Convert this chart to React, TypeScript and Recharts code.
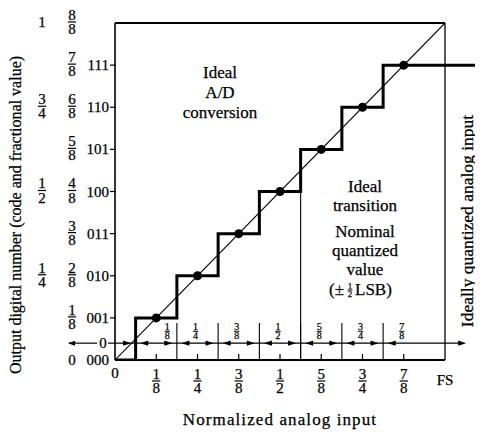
import React from 'react';
import { ComposedChart, Line, Scatter, XAxis, YAxis, ReferenceLine, Customized } from 'recharts';

// ---------- data ----------
const codes = ['000', '001', '010', '011', '100', '101', '110', '111'];
const levelFractions = ['0', '1/8', '2/8', '3/8', '4/8', '5/8', '6/8', '7/8', '8/8'];
const reducedFractions = ['', '', '1/4', '', '1/2', '', '3/4', '', '1'];
const yLevels = [0, 0.125, 0.25, 0.375, 0.5, 0.625, 0.75, 0.875, 1];
const xTickValues = [0, 0.125, 0.25, 0.375, 0.5, 0.625, 0.75, 0.875, 1];
const xTickLabels = ['0', '1/8', '1/4', '3/8', '1/2', '5/8', '3/4', '7/8', 'FS'];
const transitions = [0.0625, 0.1875, 0.3125, 0.4375, 0.5625, 0.6875, 0.8125];
const stepCodes = [1, 2, 3, 4, 5, 6, 7];
const quantizedInputs = [0.125, 0.25, 0.375, 0.5, 0.625, 0.75, 0.875];
const intervalLabels = ['1/8', '1/4', '3/8', '1/2', '5/8', '3/4', '7/8'];
const highlightedTransition = [0.5625];

// ---------- layout constants ----------
const FONT = '"Liberation Serif", "Times New Roman", serif';
const X_MAX = 368 / 330;
const ROW = 0.05;
const LABEL_ROW = 0.085;
const DIVIDER_TOP = 0.11;
const ARROW_GAP = 0.026;
const ROW_END = 1.052;

const stepData = [
  { x: 0, y: 0 },
  ...transitions.map((t, i) => ({ x: t, y: stepCodes[i] / 8 })),
  { x: X_MAX, y: stepCodes[stepCodes.length - 1] / 8 },
];
const diagonalData = [{ x: 0, y: 0 }, { x: 1, y: 1 }];
const dotData = quantizedInputs.map((v, i) => ({ x: v, y: stepCodes[i] / 8 }));
const labelData = quantizedInputs.map((v, i) => ({ x: v, y: LABEL_ROW, label: intervalLabels[i], first: i === 0 }));
const arrowData = [
  ...transitions.flatMap((t) => [
    { x: t - ARROW_GAP, y: ROW, dir: 1 },
    { x: t + ARROW_GAP, y: ROW, dir: -1 },
  ]),
  { x: ROW_END, y: ROW, dir: 1 },
];

const INK = { fill: '#000', stroke: '#000', strokeWidth: 0.25, fontFamily: FONT };

const Frac = ({ x, y, num, den, size = 14, bar }: any) => {
  const w = bar ?? size * 0.55 * Math.max(num.length, den.length);
  return (
    <g>
      <text x={x} y={y - size * 0.14} textAnchor="middle" fontSize={size} {...INK}>{num}</text>
      <line x1={x - w / 2} x2={x + w / 2} y1={y} y2={y} stroke="#000" strokeWidth={size > 11 ? 1.2 : 0.9} />
      <text x={x} y={y + size * 0.8} textAnchor="middle" fontSize={size} {...INK}>{den}</text>
    </g>
  );
};

const Label = ({ x, y, s, size = 14 }: any) => {
  if (!s) return null;
  if (s.includes('/')) {
    const [n, d] = s.split('/');
    return <Frac x={x} y={y} num={n} den={d} size={size} />;
  }
  return <text x={x} y={y + size * 0.33} textAnchor="middle" fontSize={size} {...INK}>{s}</text>;
};

const YTick = (props: any) => {
  const { x, y, payload } = props;
  const v = payload.value;
  if (Math.abs(v - ROW) < 1e-6) {
    return (
      <g>
        <line x1={x - 46} x2={x - 18} y1={y} y2={y} stroke="#000" strokeWidth={1.2} />
        <path d={`M${x - 47},${y} L${x - 40},${y - 2.5} L${x - 40},${y + 2.5} Z`} fill="#000" />
        <text x={x - 12} y={y + 5} textAnchor="middle" fontSize={15} {...INK}>0</text>
        <line x1={x - 7} x2={x} y1={y} y2={y} stroke="#000" strokeWidth={1.2} />
      </g>
    );
  }
  const i = yLevels.findIndex((l) => Math.abs(l - v) < 1e-6);
  if (i < 0) return null;
  return (
    <g>
      {i > 0 && i < 8 && <line x1={x - 5} x2={x + 1} y1={y} y2={y} stroke="#000" strokeWidth={1.2} />}
      {i < 8 && (
        <text x={x - 6} y={y + 5} textAnchor="end" fontSize={15} {...INK}>{codes[i]}</text>
      )}
      <Label x={x - 43} y={i === 0 ? y : y - 1} s={levelFractions[i]} size={15} />
      <Label x={x - 73} y={y - 1} s={reducedFractions[i]} size={15} />
    </g>
  );
};

const XTick = (props: any) => {
  const { x, y, index } = props;
  const s = xTickLabels[index];
  return (
    <g>
      {index > 0 && index < 8 && <line x1={x} x2={x} y1={y} y2={y - 6} stroke="#000" strokeWidth={1.2} />}
      {s.includes('/') ? (
        <Label x={x} y={y + 21} s={s} size={15} />
      ) : (
        <text x={x} y={y + (s === 'FS' ? 25 : 18)} textAnchor="middle" fontSize={15} {...INK}>{s}</text>
      )}
    </g>
  );
};

const DotShape = (p: any) => <circle cx={p.cx} cy={p.cy} r={4.5} fill="#000" />;
const ArrowShape = (p: any) => {
  const d = p.payload.dir;
  const { cx, cy } = p;
  return <path d={`M${cx + d * 4},${cy} L${cx - d * 4},${cy - 2.6} L${cx - d * 4},${cy + 2.6} Z`} fill="#000" />;
};
const SmallFracShape = (p: any) => (
  <Label x={p.cx + (p.payload.first ? 11 : -2)} y={p.cy} s={p.payload.label} size={10} />
);

const TextBlock = ({ x, ys, lines, size = 17 }: any) => (
  <g>
    {lines.map((l: any, k: number) => (
      <text key={k} x={x} y={ys[k]} textAnchor="middle" fontSize={size} {...INK}>{l}</text>
    ))}
  </g>
);

const Annotations = () => (
  <g>
    <text transform="translate(13,207) rotate(-90)" textAnchor="middle" fontSize={16} {...INK}>
      Output digital number (code and fractional value)
    </text>
    <text transform="translate(465,213) rotate(-90)" textAnchor="middle" fontSize={17.5} {...INK}>
      Ideally quantized analog input
    </text>
    <text x={272} y={417} textAnchor="middle" fontSize={17} letterSpacing={1.1} {...INK}>Normalized analog input</text>
    <TextBlock x={212} ys={[70, 90, 110]} lines={['Ideal', 'A/D', 'conversion']} />
    <TextBlock x={357} ys={[184, 203, 229, 248, 267]} lines={['Ideal', 'transition', 'Nominal', 'quantized', 'value']} />
    <g>
      <text x={336} y={287} textAnchor="end" fontSize={17} {...INK}>(±</text>
      <Frac x={342} y={282} num="1" den="2" size={9} />
      <text x={347} y={287} textAnchor="start" fontSize={17} {...INK}>LSB)</text>
    </g>
  </g>
);

export default function App() {
  return (
    <div style={{ width: 475, height: 425, background: '#fff' }}>
      <ComposedChart width={475} height={425} margin={{ top: 15, right: 0, bottom: 13, left: 0 }} style={{ fontFamily: FONT }}>
        <XAxis
          type="number"
          dataKey="x"
          domain={[0, X_MAX]}
          ticks={xTickValues}
          interval={0}
          axisLine={false}
          tickLine={false}
          tickSize={0}
          tickMargin={0}
          height={60}
          tick={<XTick />}
          allowDataOverflow
        />
        <YAxis
          type="number"
          dataKey="y"
          domain={[0, 1]}
          ticks={[...yLevels, ROW]}
          interval={0}
          width={107}
          axisLine={{ stroke: '#000', strokeWidth: 1.6 }}
          tickLine={false}
          tickSize={0}
          tickMargin={0}
          tick={<YTick />}
          allowDataOverflow
        />
        <ReferenceLine segment={[{ x: 0, y: 1 }, { x: 1, y: 1 }]} stroke="#000" strokeWidth={1.8} />
        <ReferenceLine segment={[{ x: 1, y: 0 }, { x: 1, y: 1 }]} stroke="#000" strokeWidth={1.3} />
        <ReferenceLine segment={[{ x: 0, y: 0 }, { x: 1, y: 0 }]} stroke="#000" strokeWidth={1.8} />
        <ReferenceLine segment={[{ x: 0, y: ROW }, { x: ROW_END, y: ROW }]} stroke="#000" strokeWidth={1.2} />
        {transitions.map((t) => (
          <ReferenceLine key={t} segment={[{ x: t, y: 0 }, { x: t, y: DIVIDER_TOP }]} stroke="#000" strokeWidth={1.1} />
        ))}
        {highlightedTransition.map((t) => (
          <ReferenceLine key={'h' + t} segment={[{ x: t, y: 0 }, { x: t, y: 0.625 }]} stroke="#000" strokeWidth={1.1} />
        ))}
        <Line data={diagonalData} dataKey="y" type="linear" stroke="#000" strokeWidth={1.1} dot={false} isAnimationActive={false} />
        <Line data={stepData} dataKey="y" type="stepAfter" stroke="#000" strokeWidth={3} dot={false} isAnimationActive={false} />
        <Scatter data={dotData} dataKey="y" shape={<DotShape />} isAnimationActive={false} />
        <Scatter data={arrowData} dataKey="y" shape={<ArrowShape />} isAnimationActive={false} />
        <Scatter data={labelData} dataKey="y" shape={<SmallFracShape />} isAnimationActive={false} />
        <Customized component={Annotations} />
      </ComposedChart>
    </div>
  );
}
